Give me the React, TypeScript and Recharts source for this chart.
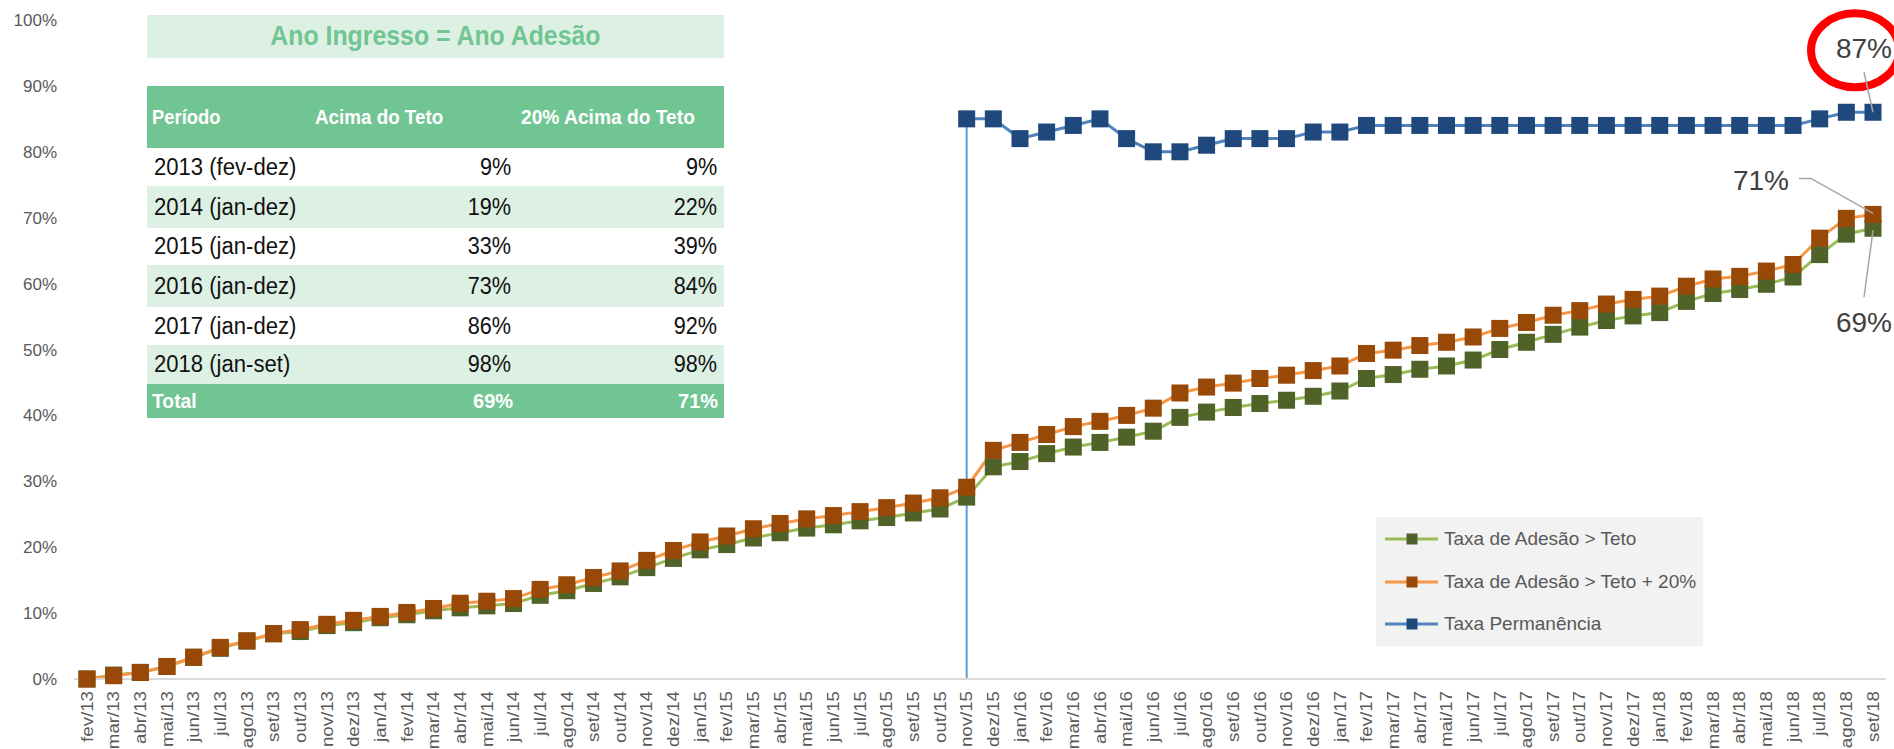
import React from 'react';
import { LineChart, Line, XAxis, YAxis, ReferenceLine, Legend, LabelList } from 'recharts';

// ---------- data ----------
const MONTHS = [
  'fev/13', 'mar/13', 'abr/13', 'mai/13', 'jun/13', 'jul/13', 'ago/13', 'set/13', 'out/13', 'nov/13', 'dez/13',
  'jan/14', 'fev/14', 'mar/14', 'abr/14', 'mai/14', 'jun/14', 'jul/14', 'ago/14', 'set/14', 'out/14', 'nov/14', 'dez/14',
  'jan/15', 'fev/15', 'mar/15', 'abr/15', 'mai/15', 'jun/15', 'jul/15', 'ago/15', 'set/15', 'out/15', 'nov/15', 'dez/15',
  'jan/16', 'fev/16', 'mar/16', 'abr/16', 'mai/16', 'jun/16', 'jul/16', 'ago/16', 'set/16', 'out/16', 'nov/16', 'dez/16',
  'jan/17', 'fev/17', 'mar/17', 'abr/17', 'mai/17', 'jun/17', 'jul/17', 'ago/17', 'set/17', 'out/17', 'nov/17', 'dez/17',
  'jan/18', 'fev/18', 'mar/18', 'abr/18', 'mai/18', 'jun/18', 'jul/18', 'ago/18', 'set/18',
];

const TAXA_TETO = [
  0, 0.6, 1.0, 1.9, 3.3, 4.65, 5.75, 6.85, 7.2, 8.1, 8.55,
  9.3, 9.75, 10.35, 10.8, 11.1, 11.45, 12.7, 13.4, 14.5, 15.5, 16.9, 18.3,
  19.6, 20.4, 21.4, 22.2, 22.9, 23.4, 24.0, 24.5, 25.2, 25.8, 27.6, 32.2,
  33.0, 34.2, 35.2, 35.9, 36.7, 37.6, 39.7, 40.5, 41.2, 41.8, 42.3, 42.9,
  43.7, 45.6, 46.2, 47.0, 47.5, 48.4, 50.0, 51.1, 52.3, 53.4, 54.4, 55.1,
  55.6, 57.3, 58.5, 59.1, 59.9, 61.0, 64.4, 67.5, 68.4,
];

const TAXA_TETO_20 = [
  0, 0.5, 1.0, 1.9, 3.3, 4.8, 5.8, 6.9, 7.5, 8.3, 8.9,
  9.5, 10.1, 10.7, 11.5, 11.8, 12.2, 13.6, 14.3, 15.4, 16.4, 18.0, 19.5,
  20.8, 21.7, 22.8, 23.6, 24.3, 24.8, 25.4, 26.0, 26.7, 27.5, 29.1, 34.7,
  35.9, 37.1, 38.3, 39.1, 40.0, 41.1, 43.4, 44.3, 44.9, 45.6, 46.1, 46.8,
  47.5, 49.4, 49.9, 50.6, 51.1, 51.9, 53.2, 54.1, 55.2, 55.9, 56.9, 57.6,
  58.1, 59.6, 60.7, 61.1, 61.9, 62.9, 66.9, 69.9, 70.5,
];

const TAXA_PERMANENCIA = [
  null, null, null, null, null, null, null, null, null, null, null,
  null, null, null, null, null, null, null, null, null, null, null, null,
  null, null, null, null, null, null, null, null, null, null, 85, 85,
  82, 83, 84, 85, 82, 80, 80, 81, 82, 82, 82, 83,
  83, 84, 84, 84, 84, 84, 84, 84, 84, 84, 84, 84,
  84, 84, 84, 84, 84, 84, 85, 86, 86,
];

const Y_TICKS = [0, 10, 20, 30, 40, 50, 60, 70, 80, 90, 100];
const MARKER_START = 'nov/15';
const LAST_LABELS = { perm: '87%', teto20: '71%', teto: '69%' };

const TABLE_TITLE = 'Ano Ingresso = Ano Adesão';
const TABLE_HEAD = ['Período', 'Acima do Teto', '20% Acima do Teto'];
const PERIODOS = ['2013 (fev-dez)', '2014 (jan-dez)', '2015 (jan-dez)', '2016 (jan-dez)', '2017 (jan-dez)', '2018 (jan-set)'];
const ACIMA_TETO = ['9%', '19%', '33%', '73%', '86%', '98%'];
const ACIMA_TETO_20 = ['9%', '22%', '39%', '84%', '92%', '98%'];
const TOTAL_ROW = ['Total', '69%', '71%'];

const SERIES = [
  { key: 'teto', name: 'Taxa de Adesão > Teto', line: '#9BBB59', marker: '#4F6228' },
  { key: 'teto20', name: 'Taxa de Adesão > Teto + 20%', line: '#F79646', marker: '#984807' },
  { key: 'perm', name: 'Taxa Permanência', line: '#4F81BD', marker: '#1F497D' },
];

const data = MONTHS.map((m, i) => ({
  mes: m,
  teto: TAXA_TETO[i],
  teto20: TAXA_TETO_20[i],
  perm: TAXA_PERMANENCIA[i],
}));

const LAST = MONTHS.length - 1;

// ---------- styles ----------
const SANS = '"Liberation Sans", Arial, sans-serif';
const GREEN_DARK = '#71C593';
const GREEN_LIGHT = '#DDF0E4';

const squareDot = (fill: string, size: number) => (props: any) => {
  const { cx, cy, index } = props;
  if (cx == null || cy == null || Number.isNaN(cy)) return <g key={`d-${index}`} />;
  return <rect key={`d-${index}`} x={cx - size / 2} y={cy - size / 2} width={size} height={size} fill={fill} />;
};

const XTick = (props: any) => {
  const { x, y, payload } = props;
  return (
    <text
      x={0}
      y={0}
      transform={`translate(${x},${y + 12}) rotate(-90) scale(1.1,1)`}
      textAnchor="end"
      dominantBaseline="central"
      fontFamily={SANS}
      fontSize={17}
      fill="#595959"
    >
      {payload.value}
    </text>
  );
};

const annText = (x: number, y: number, t: string) => (
  <text x={x} y={y} textAnchor="middle" dominantBaseline="central" fontFamily={SANS} fontSize={28} fill="#404040">
    {t}
  </text>
);

const PermLabel = (props: any) => {
  const { x, y, index } = props;
  if (index !== LAST || x == null || y == null) return null;
  return (
    <g>
      <ellipse cx={x - 18} cy={y - 62} rx={44} ry={37} fill="none" stroke="#FF0000" strokeWidth={8} />
      <line x1={x - 9} y1={y - 40} x2={x} y2={y} stroke="#A6A6A6" strokeWidth={1.5} />
      {annText(x - 9, y - 64, LAST_LABELS.perm)}
    </g>
  );
};

const Teto20Label = (props: any) => {
  const { x, y, index } = props;
  if (index !== LAST || x == null || y == null) return null;
  return (
    <g>
      <polyline
        points={`${x - 74},${y - 36} ${x - 62},${y - 36} ${x},${y - 1}`}
        fill="none"
        stroke="#A6A6A6"
        strokeWidth={1.5}
      />
      {annText(x - 112, y - 34, LAST_LABELS.teto20)}
    </g>
  );
};

const TetoLabel = (props: any) => {
  const { x, y, index } = props;
  if (index !== LAST || x == null || y == null) return null;
  return (
    <g>
      <line x1={x - 9} y1={y + 69} x2={x} y2={y + 2} stroke="#A6A6A6" strokeWidth={1.5} />
      {annText(x - 9, y + 94, LAST_LABELS.teto)}
    </g>
  );
};

const LegendBox = () => (
  <div
    style={{
      width: 327,
      height: 129,
      background: '#F2F2F2',
      position: 'relative',
      fontFamily: SANS,
      fontSize: 19,
      color: '#595959',
    }}
  >
    {SERIES.map((s, i) => (
      <div key={s.key} style={{ position: 'absolute', left: 9, top: 22 + i * 42.5 - 12, height: 24, display: 'flex', alignItems: 'center' }}>
        <svg width={54} height={24} style={{ display: 'block' }}>
          <line x1={0} y1={12} x2={53} y2={12} stroke={s.line} strokeWidth={3} />
          <rect x={21.5} y={6.5} width={11} height={11} fill={s.marker} />
        </svg>
        <span style={{ marginLeft: 5, whiteSpace: 'nowrap' }}>{s.name}</span>
      </div>
    ))}
  </div>
);

const Cell = ({ children, origin, sx, style }: { children: React.ReactNode; origin: string; sx: number; style?: React.CSSProperties }) => (
  <span
    style={{
      position: 'absolute',
      whiteSpace: 'nowrap',
      display: 'inline-block',
      transform: `scaleX(${sx})`,
      transformOrigin: `${origin} center`,
      ...style,
    }}
  >
    {children}
  </span>
);

const T_LEFT = 147;
const T_WIDTH = 577;
const ROW_TOPS = [148, 186, 228, 265, 307, 345, 384];

const Table = () => (
  <>
    <div
      style={{
        position: 'absolute', left: T_LEFT, top: 15, width: T_WIDTH, height: 43, background: GREEN_LIGHT,
        display: 'flex', alignItems: 'center', justifyContent: 'center',
        fontFamily: SANS, fontWeight: 'bold', fontSize: 27, color: GREEN_DARK,
      }}
    >
      <span style={{ whiteSpace: 'nowrap', display: 'inline-block', transform: 'scaleX(0.92)', transformOrigin: 'center center' }}>
        {TABLE_TITLE}
      </span>
    </div>
    <div style={{ position: 'absolute', left: T_LEFT, top: 86, width: T_WIDTH, height: 62, background: GREEN_DARK, fontFamily: SANS, fontWeight: 'bold', fontSize: 20, color: '#FFFFFF', display: 'flex', alignItems: 'center' }}>
      <Cell origin="left" sx={0.92} style={{ left: 4.5 }}>{TABLE_HEAD[0]}</Cell>
      <Cell origin="left" sx={0.94} style={{ left: 168 }}>{TABLE_HEAD[1]}</Cell>
      <Cell origin="left" sx={0.96} style={{ left: 374 }}>{TABLE_HEAD[2]}</Cell>
    </div>
    {PERIODOS.map((p, i) => (
      <div
        key={p}
        style={{
          position: 'absolute', left: T_LEFT, top: ROW_TOPS[i], width: T_WIDTH, height: ROW_TOPS[i + 1] - ROW_TOPS[i],
          background: i % 2 === 1 ? GREEN_LIGHT : '#FFFFFF', fontFamily: SANS, fontSize: 23, color: '#111111',
          display: 'flex', alignItems: 'center',
        }}
      >
        <Cell origin="left" sx={0.96} style={{ left: 6.5 }}>{p}</Cell>
        <Cell origin="right" sx={0.94} style={{ right: 213 }}>{ACIMA_TETO[i]}</Cell>
        <Cell origin="right" sx={0.94} style={{ right: 7 }}>{ACIMA_TETO_20[i]}</Cell>
      </div>
    ))}
    <div
      style={{
        position: 'absolute', left: T_LEFT, top: 384, width: T_WIDTH, height: 34, background: GREEN_DARK,
        fontFamily: SANS, fontWeight: 'bold', fontSize: 21, color: '#FFFFFF', display: 'flex', alignItems: 'center',
      }}
    >
      <Cell origin="left" sx={0.92} style={{ left: 4.5 }}>{TOTAL_ROW[0]}</Cell>
      <Cell origin="right" sx={0.95} style={{ right: 211 }}>{TOTAL_ROW[1]}</Cell>
      <Cell origin="right" sx={0.95} style={{ right: 6 }}>{TOTAL_ROW[2]}</Cell>
    </div>
  </>
);

export default function App() {
  return (
    <div style={{ position: 'absolute', left: 0, top: 0, width: 1894, height: 749, background: '#FFFFFF', overflow: 'hidden' }}>
      <LineChart width={1894} height={749} data={data} margin={{ top: 20, right: 8, bottom: 0, left: 0 }}>
        <XAxis
          dataKey="mes"
          interval={0}
          height={70}
          padding={{ left: 13, right: 13 }}
          tickLine={false}
          tickSize={0}
          tickMargin={0}
          axisLine={{ stroke: '#D9D9D9', strokeWidth: 2 }}
          tick={<XTick />}
        />
        <YAxis
          width={74}
          domain={[0, 100]}
          ticks={Y_TICKS}
          interval={0}
          axisLine={false}
          tickLine={false}
          tickSize={0}
          tickMargin={17}
          tickFormatter={(v: number) => `${v}%`}
          tick={{ fontFamily: SANS, fontSize: 17, fill: '#595959' }}
        />
        <ReferenceLine
          segment={[{ x: MARKER_START, y: 0 }, { x: MARKER_START, y: 85 }]}
          stroke="#5B9BD5"
          strokeWidth={2}
          ifOverflow="visible"
        />
        <Legend layout="horizontal" verticalAlign="middle" align="center" wrapperStyle={{ left: 1376, top: 517, width: 327, height: 129 }} content={() => <LegendBox />} />
        <Line
          type="linear"
          dataKey="teto"
          name={SERIES[0].name}
          stroke={SERIES[0].line}
          strokeWidth={3}
          dot={squareDot(SERIES[0].marker, 17)}
          activeDot={false}
          isAnimationActive={false}
        >
          <LabelList dataKey="teto" content={<TetoLabel />} />
        </Line>
        <Line
          type="linear"
          dataKey="teto20"
          name={SERIES[1].name}
          stroke={SERIES[1].line}
          strokeWidth={3}
          dot={squareDot(SERIES[1].marker, 17)}
          activeDot={false}
          isAnimationActive={false}
        >
          <LabelList dataKey="teto20" content={<Teto20Label />} />
        </Line>
        <Line
          type="linear"
          dataKey="perm"
          name={SERIES[2].name}
          stroke={SERIES[2].line}
          strokeWidth={3}
          dot={squareDot(SERIES[2].marker, 17)}
          activeDot={false}
          isAnimationActive={false}
        >
          <LabelList dataKey="perm" content={<PermLabel />} />
        </Line>
      </LineChart>
      <Table />
    </div>
  );
}
